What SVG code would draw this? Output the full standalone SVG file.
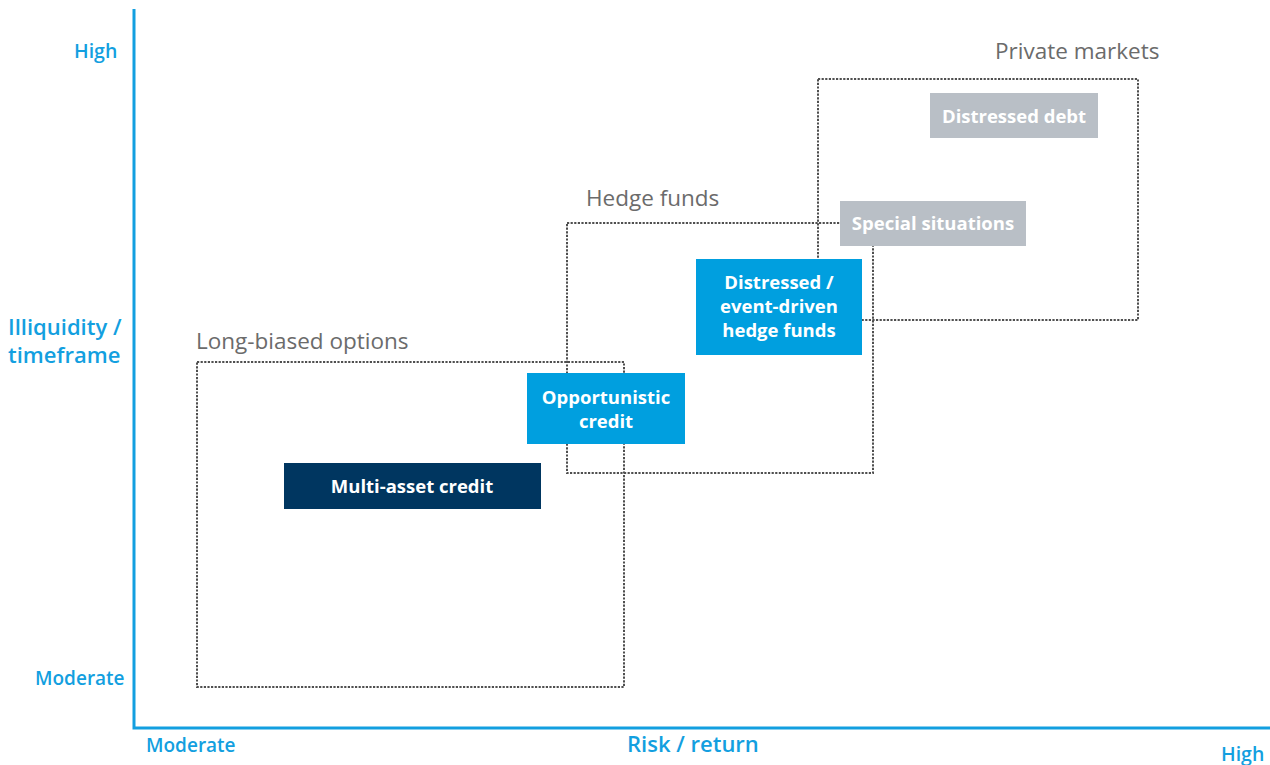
<svg xmlns="http://www.w3.org/2000/svg" width="1270" height="765" viewBox="0 0 1270 765">
  <style>
    .axis { stroke: #139fe0; stroke-width: 3; fill: none; }
    .axis-label { font-family: "Open Sans", "Noto Sans", sans-serif; font-weight: 600; fill: #139fe0; }
    .zone { fill: none; stroke: #4f4f4f; stroke-width: 2; stroke-dasharray: 2.2 1.4; }
    .zone-label { font-family: "Open Sans", "Noto Sans", sans-serif; font-weight: 400; font-size: 22.5px; fill: #6b6b6b; }
    .node-text { font-family: "Open Sans", "Noto Sans", sans-serif; font-weight: 700; font-size: 18.5px; fill: #ffffff; text-anchor: middle; }
    .grey { fill: #b9bfc6; }
    .cyan { fill: #009fdf; }
    .navy { fill: #003660; }
  </style>

  <rect width="1270" height="765" fill="#ffffff"/>

  <!-- axes -->
  <g id="axes">
    <polyline class="axis" points="134,9 134,728 1270,728"/>
    <text class="axis-label" x="74" y="58" font-size="19.5">High</text>
    <text class="axis-label" font-size="22"><tspan x="8" y="335">Illiquidity /</tspan><tspan x="8" y="363">timeframe</tspan></text>
    <text class="axis-label" x="35" y="685" font-size="19">Moderate</text>
    <text class="axis-label" x="146" y="752" font-size="19">Moderate</text>
    <text class="axis-label" x="627" y="752" font-size="22">Risk / return</text>
    <text class="axis-label" x="1221" y="761" font-size="19.5">High</text>
  </g>

  <!-- dotted groupings -->
  <g id="zones">
    <g id="zone-long-biased">
      <rect class="zone" x="197" y="362" width="427" height="325"/>
      <text class="zone-label" x="196" y="349">Long-biased options</text>
    </g>
    <g id="zone-hedge-funds">
      <rect class="zone" x="567" y="223" width="306" height="250"/>
      <text class="zone-label" x="586" y="206">Hedge funds</text>
    </g>
    <g id="zone-private-markets">
      <rect class="zone" x="818" y="79" width="320" height="241"/>
      <text class="zone-label" x="995" y="59">Private markets</text>
    </g>
  </g>

  <!-- strategy boxes -->
  <g id="node-distressed-debt">
    <rect class="grey" x="930" y="93" width="168" height="45"/>
    <text class="node-text" x="1014" y="123">Distressed debt</text>
  </g>
  <g id="node-special-situations">
    <rect class="grey" x="840" y="201" width="186" height="45"/>
    <text class="node-text" x="933" y="230">Special situations</text>
  </g>
  <g id="node-distressed-event">
    <rect class="cyan" x="696" y="259" width="166" height="96"/>
    <text class="node-text"><tspan x="779" y="289">Distressed /</tspan><tspan x="779" y="313">event-driven</tspan><tspan x="779" y="337">hedge funds</tspan></text>
  </g>
  <g id="node-opportunistic-credit">
    <rect class="cyan" x="527" y="373" width="158" height="71"/>
    <text class="node-text"><tspan x="606" y="404">Opportunistic</tspan><tspan x="606" y="428">credit</tspan></text>
  </g>
  <g id="node-multi-asset-credit">
    <rect class="navy" x="284" y="463" width="257" height="46"/>
    <text class="node-text" x="412" y="493">Multi-asset credit</text>
  </g>
</svg>
